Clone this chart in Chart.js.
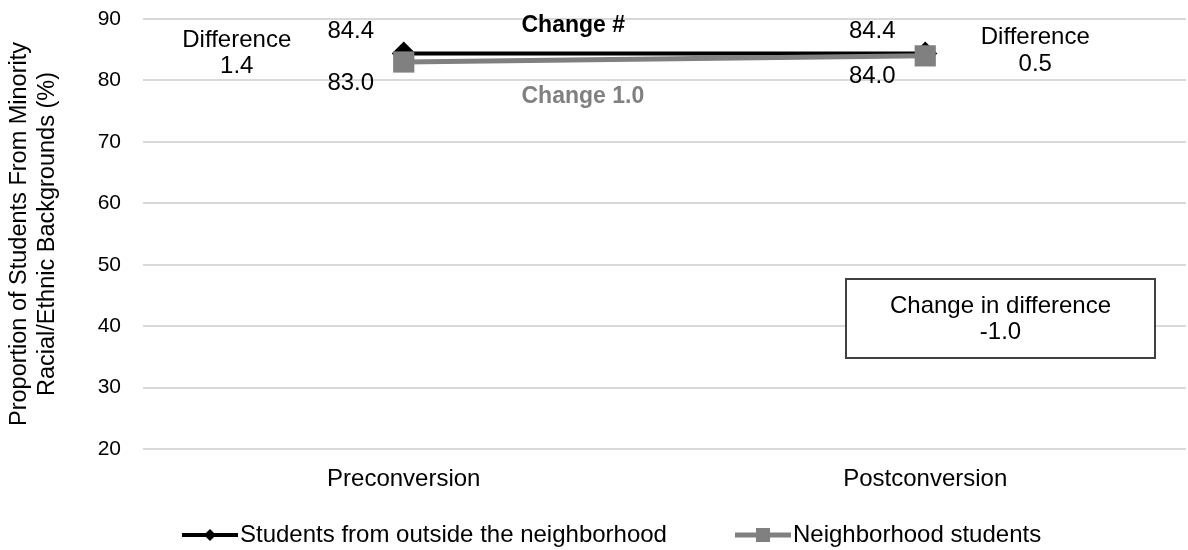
<!DOCTYPE html>
<html>
<head>
<meta charset="utf-8">
<script src="https://cdn.jsdelivr.net/npm/chart.js@4/dist/chart.umd.min.js"></script>
<style>
  html, body { margin: 0; padding: 0; background: #fff; overflow: hidden; }
  #wrap { width: 1188px; height: 550px; position: relative; }
  canvas { display: block; }
</style>
</head>
<body>
<div id="wrap"><canvas id="minorityChart"></canvas></div>
<script>
// chart data
var categories = ['Preconversion', 'Postconversion'];
var outsideValues = [84.4, 84.4];
var neighborhoodValues = [83.0, 84.0];
var seriesNames = ['Students from outside the neighborhood', 'Neighborhood students'];
var differenceLabels = ['1.4', '0.5'];
var changeLabels = ['Change #', 'Change 1.0'];
var changeInDifference = '-1.0';
var yTicks = [20, 30, 40, 50, 60, 70, 80, 90];

var FONT = '"Liberation Sans", Arial, sans-serif';
var BLACK = '#000000';
var GREY = '#808080';

// Text labels placed next to the data points
var annotationPlugin = {
    id: 'annotations',
    afterDatasetsDraw: function (chart) {
        var ctx = chart.ctx;
        var x = chart.scales.x;
        var y = chart.scales.y;
        var area = chart.chartArea;
        ctx.save();
        ctx.textAlign = 'center';
        ctx.textBaseline = 'middle';
        ctx.font = '24px ' + FONT;
        ctx.fillStyle = '#000';

        for (var i = 0; i < categories.length; i++) {
            var px = x.getPixelForValue(i);
            var top = y.getPixelForValue(outsideValues[i]);
            var bottom = y.getPixelForValue(neighborhoodValues[i]);
            ctx.fillText(outsideValues[i].toFixed(1), px - 53, top - 22);
            ctx.fillText(neighborhoodValues[i].toFixed(1), px - 53, bottom + 21);
        }

        // difference labels, left of first point and right of second
        var p0 = x.getPixelForValue(0);
        var p1 = x.getPixelForValue(1);
        ctx.fillText('Difference', p0 - 167, area.top + 21);
        ctx.fillText(differenceLabels[0], p0 - 167, area.top + 47);
        ctx.fillText('Difference', p1 + 110, area.top + 18);
        ctx.fillText(differenceLabels[1], p1 + 110, area.top + 45);

        // change labels in the middle
        var mid = (p0 + p1) / 2;
        ctx.textAlign = 'left';
        ctx.font = 'bold 23px ' + FONT;
        ctx.fillText(changeLabels[0], mid - 143, area.top + 7);
        ctx.fillStyle = GREY;
        ctx.fillText(changeLabels[1], mid - 143, area.top + 78);

        // box with change in difference
        var bx = 846, by = 279, bw = 309, bh = 79;
        ctx.fillStyle = '#fff';
        ctx.fillRect(bx, by, bw, bh);
        ctx.strokeStyle = '#404040';
        ctx.lineWidth = 2;
        ctx.strokeRect(bx, by, bw, bh);
        ctx.textAlign = 'center';
        ctx.fillStyle = '#000';
        ctx.font = '24px ' + FONT;
        ctx.fillText('Change in difference', bx + bw / 2, by + 27);
        ctx.fillText(changeInDifference, bx + bw / 2, by + 53);
        ctx.restore();
    }
};

// legend at the bottom, line with marker
var legendPlugin = {
    id: 'bottomLegend',
    afterDraw: function (chart) {
        var ctx = chart.ctx;
        var items = [
            { text: seriesNames[0], color: BLACK, lx: 182, width: 4, style: 'diamond' },
            { text: seriesNames[1], color: GREY, lx: 735, width: 5, style: 'square' }
        ];
        var ly = 535;
        ctx.save();
        ctx.font = '24px ' + FONT;
        ctx.textBaseline = 'middle';
        ctx.textAlign = 'left';
        items.forEach(function (it) {
            ctx.strokeStyle = it.color;
            ctx.lineWidth = it.width;
            ctx.beginPath();
            ctx.moveTo(it.lx, ly);
            ctx.lineTo(it.lx + 56, ly);
            ctx.stroke();
            ctx.fillStyle = it.color;
            var cx = it.lx + 28;
            if (it.style === 'diamond') {
                ctx.beginPath();
                ctx.moveTo(cx, ly - 6);
                ctx.lineTo(cx + 6, ly);
                ctx.lineTo(cx, ly + 6);
                ctx.lineTo(cx - 6, ly);
                ctx.closePath();
                ctx.fill();
            } else {
                ctx.fillRect(cx - 7, ly - 7, 14, 14);
            }
            ctx.fillStyle = '#000';
            ctx.fillText(it.text, it.lx + 58, ly);
        });
        ctx.restore();
    }
};

var ctx = document.getElementById('minorityChart').getContext('2d');
var chart = new Chart(ctx, {
    type: 'line',
    data: {
        labels: categories,
        datasets: [{
            label: seriesNames[0],
            data: outsideValues,
            borderColor: BLACK,
            backgroundColor: BLACK,
            borderWidth: 4,
            pointStyle: 'rectRot',
            pointRadius: 12,
            pointBorderWidth: 0,
            order: 1
        }, {
            label: seriesNames[1],
            data: neighborhoodValues,
            borderColor: GREY,
            backgroundColor: GREY,
            borderWidth: 5,
            pointStyle: 'rect',
            pointRadius: 15,
            pointBorderWidth: 0,
            order: 0
        }]
    },
    options: {
        responsive: true,
        maintainAspectRatio: false,
        animation: false,
        layout: { autoPadding: false, padding: { top: 19, right: 2, left: 0, bottom: 0 } },
        scales: {
            x: {
                offset: true,
                grid: { display: false },
                border: { display: false },
                ticks: { color: '#000', font: { family: FONT, size: 24 }, padding: 8 },
                afterFit: function (scale) {
                    scale.height = 101;
                    scale.paddingLeft = 0;
                    scale.paddingRight = 0;
                }
            },
            y: {
                min: 20,
                max: 90,
                afterBuildTicks: function (scale) {
                    scale.ticks = yTicks.map(function (v) { return { value: v }; });
                },
                grid: { color: '#d9d9d9', lineWidth: 2, drawTicks: false },
                border: { display: false },
                ticks: { color: '#000', font: { family: FONT, size: 21 }, padding: 22 },
                title: {
                    display: true,
                    text: ['Proportion of Students From Minority', 'Racial/Ethnic Backgrounds (%)'],
                    color: '#000',
                    font: { family: FONT, size: 23.5 },
                    padding: { top: 5, bottom: 0 }
                },
                afterFit: function (scale) {
                    scale.width = 143;
                    scale.paddingTop = 0;
                    scale.paddingBottom = 0;
                }
            }
        },
        plugins: {
            legend: { display: false },
            tooltip: { enabled: false }
        }
    },
    plugins: [annotationPlugin, legendPlugin]
});
</script>
</body>
</html>
